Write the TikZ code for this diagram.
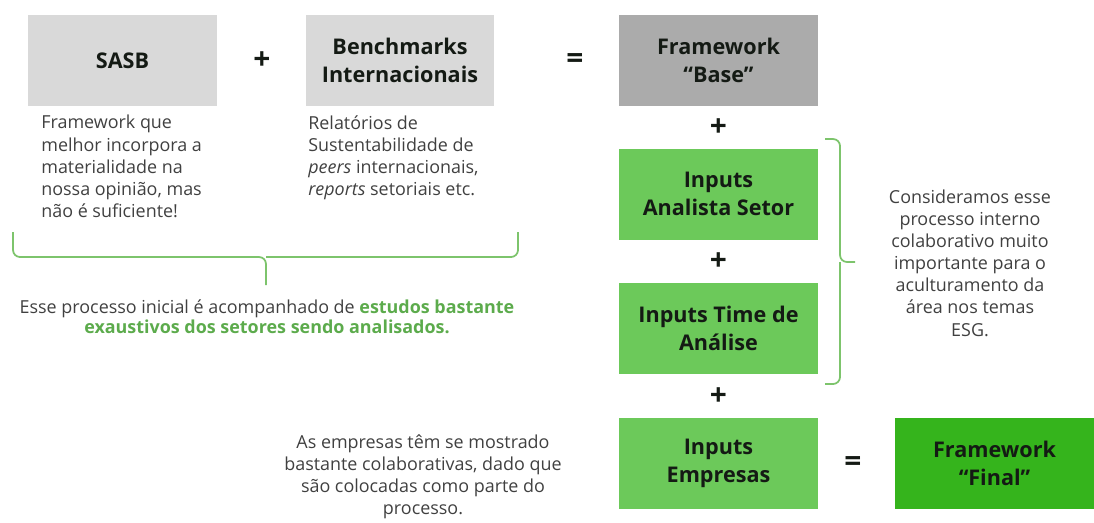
\documentclass[tikz,border=0pt]{standalone}
\usepackage{fontspec}
\setmainfont{Open Sans}
\definecolor{boxgray}{HTML}{D9D9D9}
\definecolor{basegray}{HTML}{ABABAB}
\definecolor{inputgreen}{HTML}{6CC95A}
\definecolor{finalgreen}{HTML}{35B41C}
\definecolor{bracegreen}{HTML}{7DC46C}
\definecolor{textgray}{HTML}{404040}
\definecolor{darktitle}{HTML}{141A14}

\begin{document}
\begin{tikzpicture}[x=0.02cm,y=-0.02cm,
                    box/.style={minimum width=3.78cm,minimum height=1.82cm,inner sep=0pt,align=center,
                                text=darktitle,font=\bfseries\fontsize{12.3}{15.8}\selectfont},
                    wide/.style={box,minimum width=3.98cm},
                    op/.style={font=\bfseries\fontsize{17}{17}\selectfont,text=darktitle},
                    note/.style={text=textgray,font=\fontsize{10.2}{12.6}\selectfont,inner sep=0pt},
                    bracepath/.style={draw=bracegreen,line width=1pt,rounded corners=4pt}]
                    \useasboundingbox (0,0) rectangle (1094,522);
                    \node[box,fill=boxgray] (sasb) at (122.5,60.5) {SASB};
                    \node[box,fill=boxgray] (bench) at (400,60.5) {Benchmarks\\Internacionais};
                    \node[wide,fill=basegray] (base) at (718.5,60.5) {Framework\\“Base”};
                    \node[wide,fill=inputgreen] (analista) at (718.5,194) {Inputs\\Analista Setor};
                    \node[wide,fill=inputgreen] (time) at (718.5,328.5) {Inputs Time de\\Análise};
                    \node[wide,fill=inputgreen] (empresas) at (718.5,463) {Inputs\\Empresas};
                    \node[wide,fill=finalgreen] (final) at (994.5,463) {Framework\\“Final”};
                    \node[op] (plusA) at (262,61) {+};
                    \node[op] (eqA) at (575,61) {=};
                    \node[op] (plusB) at (718.5,128) {+};
                    \node[op] (plusC) at (718.5,262) {+};
                    \node[op] (plusD) at (718.5,397) {+};
                    \node[op] (eqB) at (853,464) {=};
                    \node[note,anchor=north west,align=left] (sasbnote) at (41,115)
                        {Framework que\\melhor incorpora a\\materialidade na\\nossa opinião, mas\\não é suficiente!};
                    \node[note,anchor=north west,align=left] (benchnote) at (308,115)
                        {Relatórios de\\Sustentabilidade de\\\emph{peers} internacionais,\\\emph{reports} setoriais etc.};
                    \node[note,align=center,font=\fontsize{10.2}{11.4}\selectfont] (processnote) at (267,317)
                        {Esse processo inicial é acompanhado de \textcolor{inputgreen!85!black}{\bfseries estudos bastante}\\
                         \textcolor{inputgreen!85!black}{\bfseries exaustivos dos setores sendo analisados.}};
                    \node[note,align=center] (empresasnote) at (423,477)
                        {As empresas têm se mostrado\\bastante colaborativas, dado que\\são colocadas como parte do\\processo.};
                    \node[note,align=center] (internonote) at (970,263)
                        {Consideramos esse\\processo interno\\colaborativo muito\\importante para o\\aculturamento da\\área nos temas\\ESG.};
                    \draw[bracepath] (13,232) |- (266,257) -- (266,285);
                    \draw[bracepath] (518,232) |- (266,257);
                    \draw[bracepath] (825,139) -| (840,262) -- (855,262);
                    \draw[bracepath] (825,384) -| (840,262);
                \end{tikzpicture}
\end{document}
